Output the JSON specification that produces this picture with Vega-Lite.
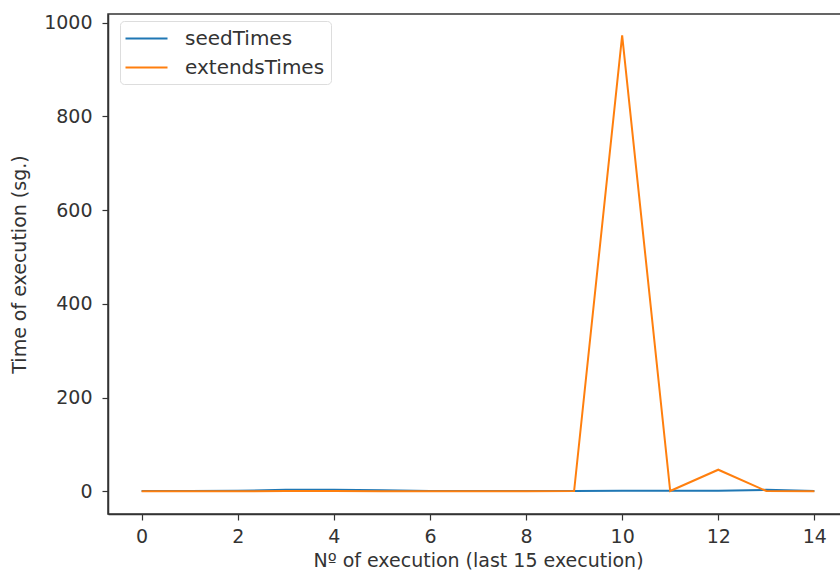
{
  "$schema": "https://vega.github.io/schema/vega-lite/v6.json",
  "autosize": "none",
  "width": 740,
  "height": 500,
  "padding": {"left": 108, "top": 14, "right": 0, "bottom": 60},
  "background": "white",
  "config": {
    "font": "DejaVu Sans",
    "view": {"stroke": "#333", "strokeWidth": 1.5}
  },
  "data": {
    "values": [
      {"x": 0, "series": "seedTimes", "t": 0.5},
      {"x": 1, "series": "seedTimes", "t": 0.5},
      {"x": 2, "series": "seedTimes", "t": 1},
      {"x": 3, "series": "seedTimes", "t": 3},
      {"x": 4, "series": "seedTimes", "t": 3},
      {"x": 5, "series": "seedTimes", "t": 2},
      {"x": 6, "series": "seedTimes", "t": 0.5},
      {"x": 7, "series": "seedTimes", "t": 0.5},
      {"x": 8, "series": "seedTimes", "t": 0.5},
      {"x": 9, "series": "seedTimes", "t": 0.5},
      {"x": 10, "series": "seedTimes", "t": 1},
      {"x": 11, "series": "seedTimes", "t": 1},
      {"x": 12, "series": "seedTimes", "t": 1},
      {"x": 13, "series": "seedTimes", "t": 3},
      {"x": 14, "series": "seedTimes", "t": 0.5},
      {"x": 0, "series": "extendsTimes", "t": 0},
      {"x": 1, "series": "extendsTimes", "t": 0},
      {"x": 2, "series": "extendsTimes", "t": 0},
      {"x": 3, "series": "extendsTimes", "t": 0.5},
      {"x": 4, "series": "extendsTimes", "t": 0.5},
      {"x": 5, "series": "extendsTimes", "t": 0},
      {"x": 6, "series": "extendsTimes", "t": 0},
      {"x": 7, "series": "extendsTimes", "t": 0},
      {"x": 8, "series": "extendsTimes", "t": 0},
      {"x": 9, "series": "extendsTimes", "t": 0.5},
      {"x": 10, "series": "extendsTimes", "t": 973},
      {"x": 11, "series": "extendsTimes", "t": 0.5},
      {"x": 12, "series": "extendsTimes", "t": 46},
      {"x": 13, "series": "extendsTimes", "t": 0.5},
      {"x": 14, "series": "extendsTimes", "t": 0}
    ]
  },
  "mark": {"type": "line", "strokeWidth": 2, "clip": true},
  "encoding": {
    "x": {
      "field": "x", "type": "quantitative",
      "scale": {"domain": [-0.7, 14.7], "nice": false, "zero": false},
      "axis": {
        "title": "Nº of execution (last 15 execution)",
        "values": [0, 2, 4, 6, 8, 10, 12, 14],
        "format": "d",
        "grid": false,
        "domainColor": "#333", "domainWidth": 1.5,
        "tickColor": "#333", "tickSize": 6, "tickWidth": 1.2,
        "labelFontSize": 19, "labelColor": "#333", "labelPadding": 7,
        "titleFontSize": 19, "titleColor": "#333", "titleFontWeight": "normal", "titlePadding": 5
      }
    },
    "y": {
      "field": "t", "type": "quantitative",
      "scale": {"domain": [-48.5, 1018.5], "nice": false, "zero": false},
      "axis": {
        "title": "Time of execution (sg.)",
        "values": [0, 200, 400, 600, 800, 1000],
        "format": "d",
        "grid": false,
        "domainColor": "#333", "domainWidth": 1.5,
        "tickColor": "#333", "tickSize": 6, "tickWidth": 1.2,
        "labelFontSize": 19, "labelColor": "#333", "labelPadding": 10,
        "titleFontSize": 19, "titleColor": "#333", "titleFontWeight": "normal", "titlePadding": 14
      }
    },
    "color": {
      "field": "series", "type": "nominal",
      "scale": {"domain": ["seedTimes", "extendsTimes"], "range": ["#1f77b4", "#ff7f0e"]},
      "legend": {
        "title": null,
        "orient": "none",
        "legendX": 12,
        "legendY": 7,
        "symbolType": "M-2,0H2",
        "symbolSize": 441,
        "symbolOffset": 9,
        "symbolStrokeWidth": 2,
        "labelFontSize": 20,
        "labelColor": "#333",
        "labelOffset": 27,
        "rowPadding": 7,
        "padding": 6,
        "strokeColor": "#ddd",
        "fillColor": "white",
        "cornerRadius": 4
      }
    }
  }
}
